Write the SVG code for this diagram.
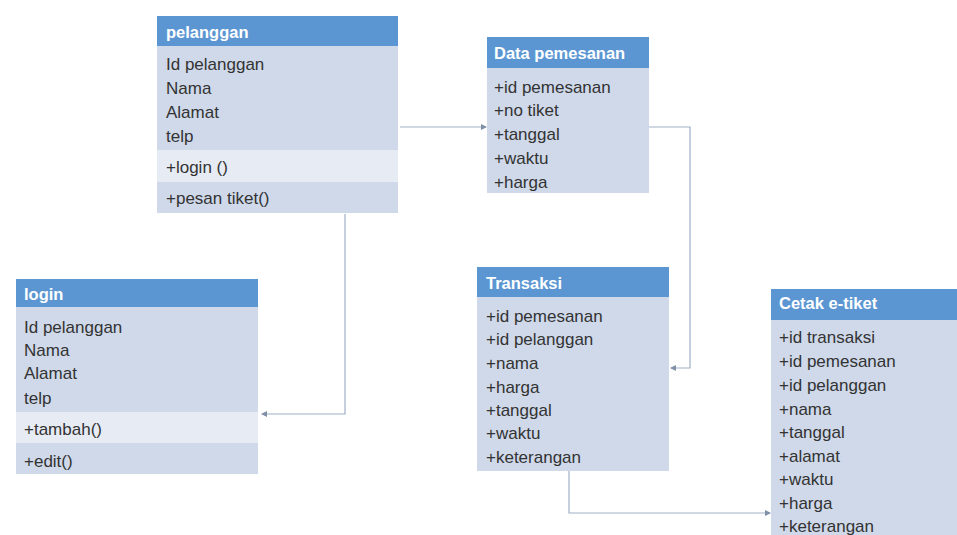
<svg xmlns="http://www.w3.org/2000/svg" width="957" height="535" viewBox="0 0 957 535">
<defs>
<style>
.hd{fill:#5b96d2}
.bd{fill:#cfd9ea}
.mt{fill:#e6ebf4}
.ht{font-family:"Liberation Sans",Arial,sans-serif;font-size:16.5px;font-weight:bold;fill:#ffffff}
.tx{font-family:"Liberation Sans",Arial,sans-serif;font-size:17px;fill:#333333}
.cn{fill:none;stroke:#9fb0c8;stroke-width:1.2}
</style>
<marker id="ar" viewBox="0 0 6 6" refX="5" refY="3" markerWidth="5" markerHeight="5" orient="auto">
<path d="M0,0 L6,3 L0,6 z" fill="#7f90a8"/>
</marker>
</defs>
<rect width="957" height="535" fill="#ffffff"/>

<g id="connectors">
<path class="cn" d="M400,127 H486" marker-end="url(#ar)"/>
<path class="cn" d="M649,127 H690 V368 H671" marker-end="url(#ar)"/>
<path class="cn" d="M345,214 V414 H262" marker-end="url(#ar)"/>
<path class="cn" d="M569,471 V513 H770" marker-end="url(#ar)"/>
</g>

<g id="pelanggan">
<rect class="bd" x="157" y="16" width="241" height="197"/>
<rect class="hd" x="157" y="16" width="241" height="30"/>
<rect class="mt" x="157" y="150" width="241" height="32"/>
<text class="ht" x="166" y="38">pelanggan</text>
<text class="tx" x="166" y="70">Id pelanggan</text>
<text class="tx" x="166" y="94">Nama</text>
<text class="tx" x="166" y="118">Alamat</text>
<text class="tx" x="166" y="142">telp</text>
<text class="tx" x="166" y="173">+login ()</text>
<text class="tx" x="166" y="204">+pesan tiket()</text>
</g>

<g id="data-pemesanan">
<rect class="bd" x="487" y="37" width="162" height="156"/>
<rect class="hd" x="487" y="37" width="162" height="31"/>
<text class="ht" x="494" y="59">Data pemesanan</text>
<text class="tx" x="494" y="93">+id pemesanan</text>
<text class="tx" x="494" y="116">+no tiket</text>
<text class="tx" x="494" y="140">+tanggal</text>
<text class="tx" x="494" y="164">+waktu</text>
<text class="tx" x="494" y="188">+harga</text>
</g>

<g id="login">
<rect class="bd" x="16" y="279" width="242" height="195"/>
<rect class="hd" x="16" y="279" width="242" height="28"/>
<rect class="mt" x="16" y="412" width="242" height="31"/>
<text class="ht" x="24" y="300">login</text>
<text class="tx" x="24" y="333">Id pelanggan</text>
<text class="tx" x="24" y="356">Nama</text>
<text class="tx" x="24" y="379">Alamat</text>
<text class="tx" x="24" y="404">telp</text>
<text class="tx" x="24" y="435">+tambah()</text>
<text class="tx" x="24" y="467">+edit()</text>
</g>

<g id="transaksi">
<rect class="bd" x="477" y="267" width="192" height="204"/>
<rect class="hd" x="477" y="267" width="192" height="30"/>
<text class="ht" x="486" y="289">Transaksi</text>
<text class="tx" x="486" y="322">+id pemesanan</text>
<text class="tx" x="486" y="345">+id pelanggan</text>
<text class="tx" x="486" y="369">+nama</text>
<text class="tx" x="486" y="393">+harga</text>
<text class="tx" x="486" y="416">+tanggal</text>
<text class="tx" x="486" y="439">+waktu</text>
<text class="tx" x="486" y="463">+keterangan</text>
</g>

<g id="cetak-e-tiket">
<rect class="bd" x="771" y="289" width="186" height="246"/>
<rect class="hd" x="771" y="289" width="186" height="31"/>
<text class="ht" x="779" y="309">Cetak e-tiket</text>
<text class="tx" x="779" y="343">+id transaksi</text>
<text class="tx" x="779" y="367">+id pemesanan</text>
<text class="tx" x="779" y="391">+id pelanggan</text>
<text class="tx" x="779" y="415">+nama</text>
<text class="tx" x="779" y="438">+tanggal</text>
<text class="tx" x="779" y="462">+alamat</text>
<text class="tx" x="779" y="485">+waktu</text>
<text class="tx" x="779" y="509">+harga</text>
<text class="tx" x="779" y="532">+keterangan</text>
</g>
</svg>
